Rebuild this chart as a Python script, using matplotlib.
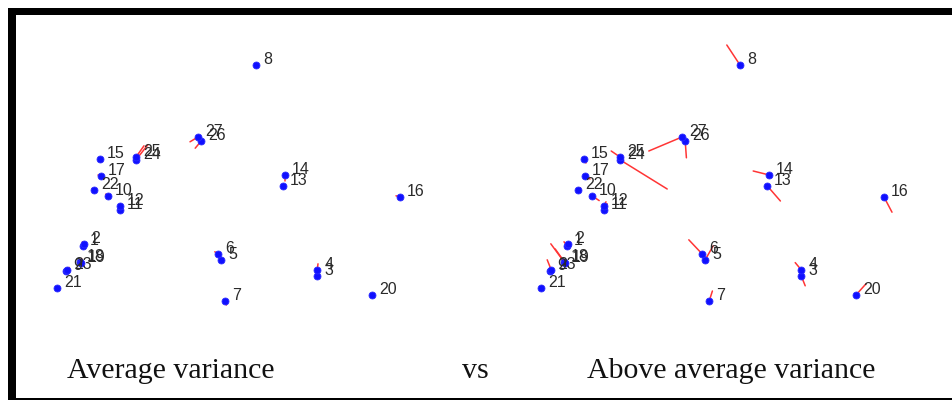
import matplotlib
matplotlib.use("Agg")
import matplotlib.pyplot as plt
from matplotlib.patches import Rectangle

# Item positions on the shared two-dimensional map (same layout for both panels)
labels = ["1", "2", "3", "4", "5", "6", "7", "8", "9", "10", "11", "12", "13",
          "14", "15", "16", "17", "18", "19", "20", "21", "22", "23", "24",
          "25", "26", "27"]
pos_x = [1.08, 1.10, 6.93, 6.93, 4.53, 4.45, 4.63, 5.40, 0.65, 1.70, 2.00,
         2.00, 6.08, 6.13, 1.50, 9.00, 1.53, 1.00, 1.03, 8.30, 0.43, 1.35,
         0.68, 2.40, 2.40, 4.03, 3.95]
pos_y = [1.83, 1.88, 1.08, 1.23, 1.48, 1.63, 0.45, 6.35, 1.20, 3.08, 2.73,
         2.83, 3.33, 3.60, 4.00, 3.05, 3.58, 1.43, 1.40, 0.60, 0.78, 3.23,
         1.23, 3.98, 4.05, 4.45, 4.55]

# Shift of each item under average variance
avg_dx = [0.05, -0.04, 0.05, 0.02, 0.04, -0.08, 0.03, 0.00, 0.04, -0.06, 0.03,
          0.02, 0.03, 0.00, 0.03, -0.10, -0.08, 0.04, 0.05, 0.05, 0.00, -0.05,
          0.05, 0.30, 0.20, -0.15, -0.20]
avg_dy = [-0.08, 0.05, 0.00, 0.15, -0.05, 0.05, -0.10, 0.00, -0.06, 0.04, 0.08,
          0.05, 0.00, -0.15, -0.08, 0.03, 0.02, 0.08, -0.06, 0.04, 0.00, 0.03,
          0.06, 0.38, 0.28, -0.18, -0.12]

# Shift of each item under above average variance
above_dx = [-0.08, 0.05, 0.10, -0.15, 0.20, -0.33, 0.08, -0.33, 0.05, 0.18,
            0.08, 0.05, 0.33, -0.40, 0.05, 0.20, 0.12, -0.33, -0.25, 0.25,
            0.03, 0.06, -0.10, 1.18, -0.22, 0.03, -0.83]
above_dy = [0.10, -0.08, -0.25, 0.18, 0.35, 0.35, 0.25, 0.50, -0.05, -0.12,
            0.15, 0.10, -0.38, 0.10, -0.10, -0.38, -0.08, 0.45, 0.35, 0.28,
            0.05, 0.05, 0.25, -0.73, 0.15, -0.42, -0.35]

captions = ["Average variance", "vs", "Above average variance"]

W, H = 952, 402
fig = plt.figure(figsize=(W / 100, H / 100), dpi=100)
fig.patch.set_facecolor("white")


def fx(px):
    return px / W


def fy(py):
    return 1 - py / H


def panel(left_px, dx, dy):
    ax = fig.add_axes([fx(left_px), fy(320), 400 / W, 280 / H])
    ax.set_xlim(0, 10)
    ax.set_ylim(0, 7)
    ax.axis("off")
    for x, y, ddx, ddy in zip(pos_x, pos_y, dx, dy):
        ax.plot([x, x + ddx], [y, y + ddy], color="#ff3535", lw=1.1,
                solid_capstyle="round", zorder=2)
    ax.plot(pos_x, pos_y, "o", color="#1010ff", ms=5, mec="#2a2aff",
            mew=0.6, zorder=3)
    for x, y, lab in zip(pos_x, pos_y, labels):
        ax.annotate(lab, (x, y), xytext=(7, 6), textcoords="offset pixels",
                    ha="left", va="center", fontsize=11.5,
                    family="Liberation Sans", color="#2a2a2a", zorder=4)
    return ax


panel(40, avg_dx, avg_dy)
panel(524, above_dx, above_dy)

# Captions under the panels
cap_x = [67, 462, 587]
for cx, txt in zip(cap_x, captions):
    fig.text(fx(cx), fy(378), txt, ha="left", va="baseline",
             fontsize=21.5, family="Liberation Serif", color="#111111")

# Frame around the figure
fig.add_artist(Rectangle((fx(8), fy(16)), 1 - fx(8), 7 / H,
                         transform=fig.transFigure, color="black", lw=0))
fig.add_artist(Rectangle((fx(8), fy(401)), 8 / W, 385 / H,
                         transform=fig.transFigure, color="black", lw=0))
fig.add_artist(Rectangle((fx(8), fy(401)), 1 - fx(8), 2.5 / H,
                         transform=fig.transFigure, color="black", lw=0))

fig.savefig("out.png", dpi=100)
